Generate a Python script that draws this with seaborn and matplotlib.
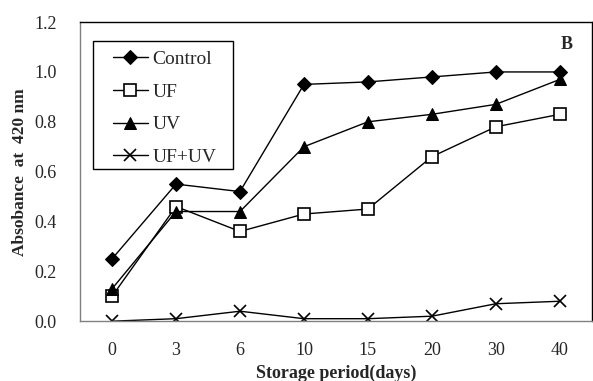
import pandas as pd
import matplotlib
matplotlib.use("Agg")
import matplotlib.pyplot as plt
import seaborn as sns
from matplotlib.ticker import FixedLocator
from matplotlib.patches import Rectangle

days = ["0", "3", "6", "10", "15", "20", "30", "40"]
control = [0.25, 0.55, 0.52, 0.95, 0.96, 0.98, 1.00, 1.00]
uf = [0.10, 0.46, 0.36, 0.43, 0.45, 0.66, 0.78, 0.83]
uv = [0.13, 0.44, 0.44, 0.70, 0.80, 0.83, 0.87, 0.97]
uf_uv = [0.00, 0.01, 0.04, 0.01, 0.01, 0.02, 0.07, 0.08]

sns.set_style("white")
plt.rcParams["font.family"] = ["Liberation Serif", "DejaVu Serif"]

fig = plt.figure(figsize=(5.93, 3.81), dpi=100)
ax = fig.add_axes([0.135, 0.157, 0.863, 0.785])

series = [
    ("Control", control, dict(marker="D", markersize=7, markerfacecolor="black")),
    ("UF", uf, dict(marker="s", markersize=9, markerfacecolor="white", markeredgewidth=1.2)),
    ("UV", uv, dict(marker="^", markersize=9, markerfacecolor="black")),
    ("UF+UV", uf_uv, dict(marker="x", markersize=9, markeredgewidth=1.2)),
]

for name, vals, style in series:
    df = pd.DataFrame({"day": days, "val": vals})
    sns.lineplot(data=df, x="day", y="val", ax=ax, color="black", linewidth=1,
                 markeredgecolor="black", label=name, sort=False, **style)

ax.set_xlim(-0.5, len(days) - 0.5)
ax.set_ylim(0, 1.2)
ax.set_yticks([0.0, 0.2, 0.4, 0.6, 0.8, 1.0, 1.2])
ax.set_yticklabels([f"{v:.1f}" for v in [0.0, 0.2, 0.4, 0.6, 0.8, 1.0, 1.2]])
ax.set_xticks(range(len(days)))
ax.set_xticklabels(days)
ax.xaxis.set_minor_locator(FixedLocator([i - 0.5 for i in range(len(days) + 1)]))
ax.tick_params(axis="x", which="major", length=0, pad=15, labelsize=13)
ax.tick_params(axis="x", which="minor", length=5, color="#808080", direction="out")
ax.tick_params(axis="y", length=5, color="#808080", direction="out", labelsize=13, pad=12)

for s in ["left", "bottom"]:
    ax.spines[s].set_color("#808080")
for s in ["top", "right"]:
    ax.spines[s].set_color("black")
for s in ax.spines.values():
    s.set_linewidth(1)

ax.set_xlabel("Storage period(days)", fontsize=13, fontweight="bold", labelpad=4)
ax.set_ylabel("Absobance  at  420 nm", fontsize=12.5, fontweight="bold", labelpad=4)

ax.text(0.963, 0.926, "B", transform=ax.transAxes, fontsize=13, fontweight="bold",
        ha="right", va="center")

# legend box drawn separately so the padding matches the original
ax.add_patch(Rectangle((0.0254, 0.508), 0.273, 0.428, transform=ax.transAxes,
                       fill=False, edgecolor="black", linewidth=1, zorder=5))
leg = ax.legend(loc="upper left", bbox_to_anchor=(0.064, 0.906), frameon=False,
                fontsize=14, handlelength=1.8, labelspacing=0.78,
                borderpad=0, handletextpad=0.25, borderaxespad=0)

fig.savefig("out.png", dpi=100)
